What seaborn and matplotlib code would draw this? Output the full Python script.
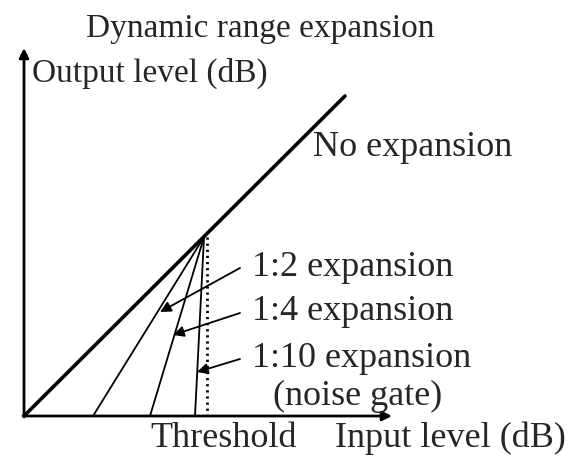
import matplotlib
matplotlib.use("Agg")
import matplotlib.pyplot as plt
import seaborn as sns
import pandas as pd

# --- data (units: arbitrary dB-like scale) ---
threshold_in = 180
threshold_out = 179
no_exp_in = [0, 321]
no_exp_out = [0, 320]
exp_labels = ["1:2 expansion", "1:4 expansion", "1:10 expansion"]
exp_zero_in = [69, 126, 171]
gate_in = 183

sns.set_style("white")
plt.rcParams['font.family'] = ['Liberation Serif', 'DejaVu Serif']

fig = plt.figure(figsize=(5.72, 4.58), dpi=100)
ax = fig.add_axes([0, 0, 1, 1])
ax.set_xlim(-24, 548)
ax.set_ylim(-42, 416)
ax.axis("off")

# No expansion line
df_no = pd.DataFrame({"x": no_exp_in, "y": no_exp_out})
sns.lineplot(data=df_no, x="x", y="y", ax=ax, color="black", linewidth=2.6, sort=False)

# Expansion lines
for lab, z in zip(exp_labels, exp_zero_in):
    d = pd.DataFrame({"x": [threshold_in, z], "y": [threshold_out, 0]})
    sns.lineplot(data=d, x="x", y="y", ax=ax, color="black", linewidth=1.3, sort=False)

# Noise gate dotted vertical
ax.plot([gate_in, gate_in], [threshold_out, 0], color="black", linewidth=2.0,
        linestyle=(0, (0.8, 1.4)), solid_capstyle="butt", dash_capstyle="butt")

# Axes with arrows
ax.annotate("", xy=(368, 0), xytext=(-1, 0),
            arrowprops=dict(arrowstyle="-|>", color="black", lw=2.0,
                            mutation_scale=14, shrinkA=0, shrinkB=0))
ax.annotate("", xy=(0, 368), xytext=(0, -1),
            arrowprops=dict(arrowstyle="-|>", color="black", lw=2.0,
                            mutation_scale=14, shrinkA=0, shrinkB=0))

fs_top = 24
fs = 26
ax.text(236, 379, "Dynamic range expansion", ha="center", va="baseline", fontsize=fs_top)
ax.text(8, 334, "Output level (dB)", ha="left", va="baseline", fontsize=fs_top)
ax.text(289, 260, "No expansion", ha="left", va="baseline", fontsize=fs)
ax.text(126, -31, "Threshold", ha="left", va="baseline", fontsize=fs)
ax.text(311, -31, "Input level (dB)", ha="left", va="baseline", fontsize=fs)

# Labels with arrows
label_pos = [(228, 140), (228, 96), (228, 49)]
tips = [(136, 104), (149, 81), (173, 44)]
starts = [(216, 148), (216, 103), (216, 57)]
for lab, (tx, ty), tip, st in zip(exp_labels, label_pos, tips, starts):
    ax.text(tx, ty, lab, ha="left", va="baseline", fontsize=fs)
    ax.annotate("", xy=tip, xytext=st,
                arrowprops=dict(arrowstyle="-|>", color="black", lw=1.3,
                                mutation_scale=16, shrinkA=0, shrinkB=0))
ax.text(249, 11, "(noise gate)", ha="left", va="baseline", fontsize=fs)

fig.savefig("out.png", dpi=100, facecolor="white")
